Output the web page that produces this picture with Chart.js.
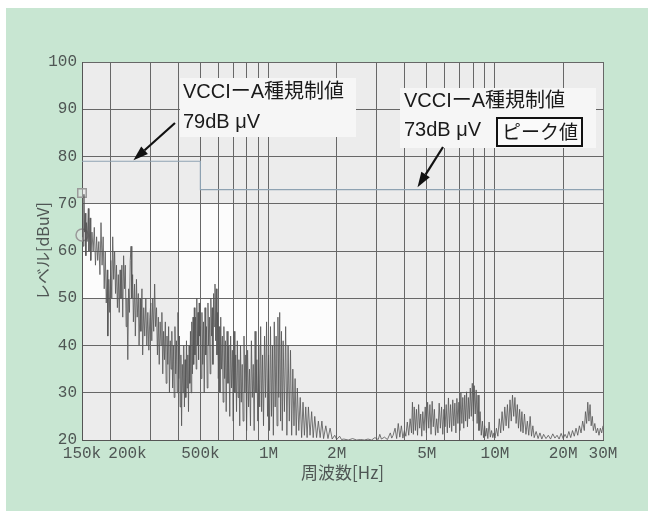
<!DOCTYPE html>
<html>
<head>
<meta charset="utf-8">
<script src="https://cdn.jsdelivr.net/npm/chart.js@4.4.0/dist/chart.umd.min.js"></script>
<style>
  html, body { margin: 0; padding: 0; background: #fff; }
  #wrap { position: relative; width: 648px; height: 511px; overflow: hidden; }
  #green { position: absolute; left: 6px; top: 8px; right: 0; bottom: 0; background: #c8e6d2; }
  canvas { position: absolute; left: 0; top: 0; }
</style>
</head>
<body>
<div id="wrap"><div id="green"></div><canvas id="emi" width="648" height="511"></canvas></div>
<script>
// frequency axis (kHz)
const xGridKHz = [150, 200, 300, 400, 500, 600, 700, 800, 900, 1000, 2000, 3000, 4000, 5000, 6000, 7000, 8000, 9000, 10000, 20000, 30000];
const xTickKHz = [150, 200, 500, 1000, 2000, 5000, 10000, 20000, 30000];
const xTickLabels = ['150k', '200k', '500k', '1M', '2M', '5M', '10M', '20M', '30M'];
const yTicks = [20, 30, 40, 50, 60, 70, 80, 90, 100];

// measured trace (peak), kHz / dBuV
const freqKHz = [
  150,151,152,153,154,155,156,157,158,160,161,163,164,166,168,170,172,174,176,178,180,182,184,186,188,190,192,194,195,197,199,
  201,203,205,207,209,211,213,215,217,219,221,223,225,227,229,231,233,235,237,239,241,243,245,247,249,251,253,256,258,261,263,266,268,271,273,276,278,281,284,287,290,293,296,299,
  302,305,308,311,314,317,320,323,326,329,332,335,338,341,344,347,350,353,356,359,362,365,368,371,374,377,380,383,386,389,
  392,395,398,401,404,407,410,413,416,419,422,425,428,431,434,437,440,443,446,449,452,455,458,461,464,467,470,473,476,479,482,485,488,491,494,497,
  500,504,508,512,516,520,524,528,532,536,540,544,548,552,556,560,564,568,572,576,580,584,588,592,596,600,605,610,615,620,
  625,630,635,640,645,650,656,662,668,674,680,686,692,698,704,710,716,722,728,734,740,746,752,758,765,772,779,786,793,800,
  808,816,824,832,840,848,856,864,872,880,888,896,905,914,923,932,941,950,960,970,980,990,
  1000,1010,1020,1030,1040,1050,1060,1070,1080,1090,1100,1110,1120,1130,1140,1150,1160,1175,1190,1205,
  1220,1235,1250,1265,1280,1295,1310,1325,1340,1360,1380,1400,1420,1440,1460,1480,1500,1525,1550,1575,
  1600,1630,1660,1690,1720,1750,1790,1830,1870,1910,1960,2000,
  2060,2100,2150,2250,2350,2450,2550,2650,2750,2850,2950,3050,3100,3150,3250,3350,3450,3500,
  3550,3620,3680,3740,3800,3860,3920,3980,4040,4100,4160,4220,4280,4320,4360,4400,4450,4500,4550,4600,
  4650,4700,4750,4800,4860,4920,4980,5040,5100,5160,5220,5280,5340,5400,5460,5530,5600,5670,5740,5810,
  5880,5950,6020,6090,6160,6230,6300,6370,6440,6510,6580,6650,6720,6790,6860,6930,7000,7070,7140,7210,
  7280,7350,7420,7490,7560,7630,7700,7780,7860,7940,8020,8100,8180,8260,8340,8420,8500,8600,8700,8800,
  8900,9000,9100,9200,9300,9420,9540,9660,9780,9900,10000,
  10150,10300,10450,10600,10750,10900,11050,11200,11350,11500,11650,11800,11950,12100,12250,12400,12550,12700,12850,13000,
  13150,13300,13500,13700,13900,14100,14300,14500,14700,14900,15200,15500,15800,16100,16400,16800,17200,17600,18000,18400,
  18800,19200,19600,20000,20400,20800,21200,21600,22000,22400,22800,23200,23600,24000,24400,24800,25100,25400,25700,26000,
  26300,26600,26900,27200,27600,28000,28400,28800,29200,29600,30000
];
const levelDb = [
  63,70,61,72,64,68,59,66,62,69,60,67,58,64,60,65,57,63,58,62,55,66,57,63,52,60,49,56,42,54,47,
  58,50,63,54,60,51,57,48,55,47,56,50,57,46,59,52,57,44,50,37,52,47,58,61,50,55,45,53,42,54,46,51,40,50,43,52,38,48,42,50,40,47,39,46,
  49,41,50,43,53,44,48,38,46,36,45,40,47,34,43,37,45,32,42,36,44,30,41,35,43,31,40,29,44,34,
  41,30,47,33,42,27,38,23,36,30,40,27,37,29,41,31,38,26,40,32,43,30,45,34,46,36,48,38,46,35,50,40,47,37,49,42,
  44,33,47,36,45,30,48,38,44,31,49,40,46,34,50,42,48,36,51,44,53,41,52,38,47,33,44,30,46,35,
  42,28,44,33,41,26,43,32,40,25,42,31,39,24,43,30,38,26,41,29,37,23,40,28,36,24,42,30,38,22,
  39,27,35,23,41,29,36,22,43,30,37,24,40,27,44,26,38,23,42,29,45,25,
  38,22,44,25,40,21,45,27,42,23,46,29,47,24,43,22,41,26,44,21,
  40,24,39,21,35,23,33,21,31,22,29,20.5,28,21,27,20.5,27,21,26,20.5,
  25,20.5,24,20.5,24,20.3,23,20.3,22.5,20.2,21,20.1,
  20.8,20.1,20.2,20.0,20.3,20.0,20.1,20.0,20.2,20.0,20.5,20.1,21.2,20.2,20.6,20.1,21.5,20.4,
  21.0,22.5,20.3,23.5,20.6,23.0,20.4,22.0,20.8,23.8,21.0,24.5,21.5,28.0,21.2,27.0,22.0,26.5,21.0,27.5,
  22.5,25.5,20.8,26.0,22.0,27.0,21.5,28.0,22.5,27.5,21.2,28.2,22.8,26.5,21.0,24.5,21.5,27.8,22.5,27.0,
  21.2,26.5,22.8,27.5,21.5,28.9,22.6,27.5,21.8,28.5,23.0,27.8,21.5,28.8,23.5,28.0,22.0,30.0,23.5,29.0,
  22.5,29.5,24.0,30.2,22.8,29.0,24.5,31.0,25.0,32.0,24.0,31.5,25.5,30.6,23.5,29.5,22.0,26.0,21.0,24.0,
  20.5,23.0,20.8,22.5,20.3,23.8,20.6,22.0,20.5,21.5,20.4,
  22.5,20.8,24.5,21.5,26.0,22.0,27.0,23.0,27.5,22.5,28.5,24.0,29.5,25.0,29.0,23.5,27.5,22.5,26.5,21.8,
  26.0,21.5,25.5,21.2,24.0,21.0,25.0,20.8,23.0,20.5,21.8,20.3,21.5,20.2,21.2,20.3,21.0,20.2,21.3,20.4,
  21.0,20.2,21.4,20.3,21.2,20.4,21.8,20.5,22.0,20.8,22.5,21.0,23.0,21.5,24.0,22.0,26.0,23.5,28.0,24.0,
  27.5,23.0,25.0,22.0,23.5,21.5,22.5,21.0,22.5,21.5,23.0
];

// VCCI class A limit (79 dBuV below 500k, 73 dBuV above)
const limitKHz = [150, 500, 500, 30000];
const limitDb = [79, 79, 73, 73];

// markers at start of the sweep
const markerKHz = [150, 150];
const markerDb = [72.3, 63.4];
const markerStyle = ['rect', 'circle'];

// lighter bands in the scanned background: [fromKHz, toKHz, lowDb, highDb]
const brightBands = [
  [150, 700, 60, 70],
  [150, 200, 50, 60],
  [400, 700, 50, 60],
  [400, 2000, 40, 50]
];

const toPts = (fs, ls) => fs.map((f, i) => ({ x: f * 1000, y: ls[i] }));

const backdrop = {
  id: 'backdrop',
  beforeDraw(chart) {
    const { ctx, chartArea: a, scales: { x, y } } = chart;
    ctx.save();
    ctx.fillStyle = '#ececec';
    ctx.fillRect(a.left, a.top, a.width, a.height);
    ctx.fillStyle = '#fcfcfc';
    brightBands.forEach(b => {
      const x1 = x.getPixelForValue(b[0] * 1000), x2 = x.getPixelForValue(b[1] * 1000);
      const y1 = y.getPixelForValue(b[3]), y2 = y.getPixelForValue(b[2]);
      ctx.fillRect(x1, y1, x2 - x1, y2 - y1);
    });
    ctx.restore();
  }
};

function arrow(ctx, x0, y0, x1, y1) {
  const ang = Math.atan2(y1 - y0, x1 - x0);
  const len = 15, half = 5;
  const bx = x1 - len * Math.cos(ang), by = y1 - len * Math.sin(ang);
  ctx.beginPath();
  ctx.moveTo(x0, y0);
  ctx.lineTo(bx, by);
  ctx.stroke();
  ctx.beginPath();
  ctx.moveTo(x1, y1);
  ctx.lineTo(bx + half * Math.sin(ang), by - half * Math.cos(ang));
  ctx.lineTo(bx - half * Math.sin(ang), by + half * Math.cos(ang));
  ctx.closePath();
  ctx.fill();
}

const notes = {
  id: 'notes',
  afterDraw(chart) {
    const { ctx, chartArea: a, scales: { x, y } } = chart;
    ctx.save();

    // x tick labels (200k pushed right so it clears 150k)
    ctx.font = '16px "Liberation Mono", monospace';
    ctx.fillStyle = '#4f5654';
    ctx.textBaseline = 'top';
    xTickKHz.forEach((f, i) => {
      const px = x.getPixelForValue(f * 1000);
      if (xTickLabels[i] === '200k') {
        ctx.textAlign = 'left';
        ctx.fillText(xTickLabels[i], px - 2, a.bottom + 6);
      } else {
        ctx.textAlign = 'center';
        ctx.fillText(xTickLabels[i], px, a.bottom + 6);
      }
    });

    // label boxes
    ctx.fillStyle = '#f6f6f6';
    ctx.fillRect(180, 78, 176, 59);
    ctx.fillRect(400, 88, 196, 60);

    ctx.fillStyle = '#1a1a1a';
    ctx.textAlign = 'left';
    ctx.textBaseline = 'alphabetic';
    ctx.font = '20px "Liberation Sans", "Noto Sans CJK JP", sans-serif';
    ctx.fillText('VCCIーA種規制値', 183, 98);
    ctx.fillText('79dB μV', 183, 128);
    ctx.fillText('VCCIーA種規制値', 404, 107);
    ctx.fillText('73dB μV', 404, 136);

    ctx.fillStyle = '#fafafa';
    ctx.fillRect(497, 118, 85, 28);
    ctx.strokeStyle = '#111';
    ctx.lineWidth = 2;
    ctx.strokeRect(497, 118, 85, 28);
    ctx.fillStyle = '#1a1a1a';
    ctx.font = '19px "Noto Sans CJK JP", sans-serif';
    ctx.fillText('ピーク値', 502, 139);

    // arrows pointing at the limit lines
    ctx.strokeStyle = '#111';
    ctx.fillStyle = '#111';
    ctx.lineWidth = 2.2;
    arrow(ctx, 175, 123, x.getPixelForValue(253000), y.getPixelForValue(79.2));
    arrow(ctx, 443, 147, x.getPixelForValue(4550000), y.getPixelForValue(73.5));

    ctx.restore();
  }
};

new Chart(document.getElementById('emi'), {
  type: 'line',
  data: {
    datasets: [{
      label: 'peak',
      data: toPts(freqKHz, levelDb),
      borderColor: 'rgba(85,85,85,0.8)',
      borderWidth: 1,
      pointRadius: 0,
      tension: 0
    }, {
      label: 'limit',
      data: toPts(limitKHz, limitDb),
      borderColor: '#8ea2b2',
      borderWidth: 1.2,
      pointRadius: 0
    }, {
      label: 'markers',
      data: toPts(markerKHz, markerDb),
      showLine: false,
      clip: false,
      pointStyle: markerStyle,
      pointRadius: 6,
      pointBorderWidth: 1.5,
      pointBorderColor: '#9a9a9a',
      pointBackgroundColor: 'rgba(230,230,230,0.4)'
    }]
  },
  options: {
    responsive: false,
    animation: false,
    layout: { padding: { left: 30, right: 45, top: 62, bottom: 26 } },
    plugins: {
      legend: { display: false },
      tooltip: { enabled: false }
    },
    scales: {
      x: {
        type: 'logarithmic',
        min: 150000,
        max: 30000000,
        afterBuildTicks: (s) => { s.ticks = xGridKHz.map(f => ({ value: f * 1000 })); },
        afterFit: (s) => { s.height = 45; },
        ticks: { display: false, autoSkip: false },
        grid: { color: '#676767', lineWidth: 1, drawTicks: false },
        border: { color: '#555', width: 1 },
        title: {
          display: true,
          text: '周波数[Hz]',
          color: '#4f5654',
          font: { family: '"Noto Sans CJK JP", sans-serif', size: 17 },
          padding: { top: 0, bottom: 2 }
        }
      },
      y: {
        min: 20,
        max: 100,
        afterBuildTicks: (s) => { s.ticks = yTicks.map(v => ({ value: v })); },
        afterFit: (s) => { s.width = 52; },
        ticks: {
          color: '#4f5654',
          padding: 5,
          font: { family: '"Liberation Mono", monospace', size: 16 }
        },
        grid: { color: '#676767', lineWidth: 1, drawTicks: false },
        border: { color: '#555', width: 1 },
        title: {
          display: true,
          text: 'レベル[dBuV]',
          color: '#4f5654',
          font: { family: '"Noto Sans CJK JP", sans-serif', size: 16 },
          padding: { top: 3, bottom: 0 }
        }
      }
    }
  },
  plugins: [backdrop, notes]
});
</script>
</body>
</html>
